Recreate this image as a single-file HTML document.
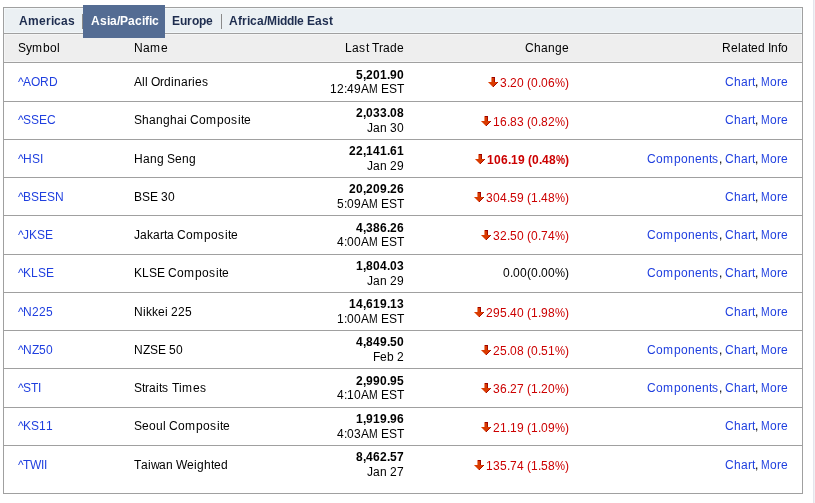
<!DOCTYPE html><html><head><meta charset="utf-8"><style>
*{margin:0;padding:0;box-sizing:border-box}
html,body{width:815px;height:503px;background:#fff;overflow:hidden}
.wrap{position:absolute;left:0;top:0;width:815px;height:503px;will-change:transform}
body{font-family:"Liberation Sans",sans-serif;font-size:12px;color:#000;position:relative}
i{font-style:normal;display:inline-block;white-space:pre}
.w2{width:2px}.w3{width:3px}.w4{width:4px}.w5{width:5px}.w6{width:6px}.w7{width:7px}.w8{width:8px}.w9{width:9px}.w10{width:10px}.w11{width:11px}.w12{width:12px}
.box{position:absolute;left:3px;top:7px;width:800px;height:487px;border:1px solid #a0a0a0}
.tabs{position:absolute;left:4px;top:8px;width:798px;height:25px;background:#ebf0f3;border:1px solid #f3f7f9}
.hdr{position:absolute;left:4px;top:34px;width:798px;height:28px;background:#eeeeee;border:1px solid #f5f5f5}
.tab{position:absolute;top:13px;font-weight:bold;color:#1e2d4f;line-height:14px;white-space:nowrap}
.act{position:absolute;left:83px;top:5px;width:82px;height:33px;background:#546c93}
.sep{position:absolute;top:14px;width:1px;height:15px;background:#8a8a8a}
.vl{position:absolute;left:813px;top:0;width:1px;height:503px;background:#e4e4ec}
.vl2{position:absolute;left:814px;top:0;width:1px;height:503px;background:#f1f1f3}
.hl{position:absolute;left:4px;width:798px;height:1px;background:#a0a0a0}
.t{position:absolute;white-space:nowrap;line-height:14px}
.lnk{color:#1f3fdf}
.pm{transform:scaleX(0.86);transform-origin:0.5px 0}
.pc{transform:scaleX(0.94);transform-origin:0 0}
.pcb{transform:scaleX(0.85);transform-origin:0 0}
.red{color:#cc0000}
.b{font-weight:bold}
.arw{width:13px;height:11px;vertical-align:-1px}
.arw svg{display:block}
</style></head><body><div class="wrap">
<div class="vl"></div><div class="vl2"></div><div class="box"></div><div class="tabs"></div><div class="hdr"></div><div class="hl" style="top:33px"></div><div class="hl" style="top:62px"></div>
<div class="act"></div>
<div class="tab" style="left:19px;top:14px"><i class="w9">A</i><i class="w11">m</i><i class="w7">e</i><i class="w5">r</i><i class="w3">i</i><i class="w7">c</i><i class="w7">a</i><i class="w7">s</i></div>
<div class="sep" style="left:82px"></div>
<div class="tab" style="color:#fff;left:91px;top:14px"><i class="w9">A</i><i class="w7">s</i><i class="w3">i</i><i class="w7">a</i><i class="w3">/</i><i class="w8">P</i><i class="w7">a</i><i class="w7">c</i><i class="w3">i</i><i class="w4">f</i><i class="w3">i</i><i class="w7">c</i></div>
<div class="tab" style="left:172px;top:14px"><i class="w8">E</i><i class="w7">u</i><i class="w5">r</i><i class="w7">o</i><i class="w7">p</i><i class="w7">e</i></div>
<div class="sep" style="left:221px"></div>
<div class="tab" style="left:229px;top:14px"><i class="w9">A</i><i class="w4">f</i><i class="w5">r</i><i class="w3">i</i><i class="w7">c</i><i class="w7">a</i><i class="w3">/</i><i class="w10">M</i><i class="w3">i</i><i class="w7">d</i><i class="w7">d</i><i class="w3">l</i><i class="w7">e</i><i class="w3">&nbsp;</i><i class="w8">E</i><i class="w7">a</i><i class="w7">s</i><i class="w4">t</i></div>
<div class="t" style="left:18px;top:41px"><i class="w8">S</i><i class="w6">y</i><i class="w11">m</i><i class="w7">b</i><i class="w7">o</i><i class="w3">l</i></div>
<div class="t" style="left:134px;top:41px"><i class="w9">N</i><i class="w7">a</i><i class="w11">m</i><i class="w7">e</i></div>
<div class="t" style="right:411px;top:41px"><i class="w7">L</i><i class="w7">a</i><i class="w7">s</i><i class="w3">t</i><i class="w3">&nbsp;</i><i class="w7">T</i><i class="w4">r</i><i class="w7">a</i><i class="w7">d</i><i class="w7">e</i></div>
<div class="t" style="right:246px;top:41px"><i class="w9">C</i><i class="w7">h</i><i class="w7">a</i><i class="w7">n</i><i class="w7">g</i><i class="w7">e</i></div>
<div class="t" style="right:27px;top:41px"><i class="w9">R</i><i class="w7">e</i><i class="w3">l</i><i class="w7">a</i><i class="w3">t</i><i class="w7">e</i><i class="w7">d</i><i class="w3">&nbsp;</i><i class="w3">I</i><i class="w7">n</i><i class="w3">f</i><i class="w7">o</i></div>
<div class="hl" style="top:101px"></div>
<div class="t lnk" style="left:18px;top:75px"><i class="w5">^</i><i class="w8">A</i><i class="w9">O</i><i class="w9">R</i><i class="w9">D</i></div>
<div class="t" style="left:134px;top:75px"><i class="w8">A</i><i class="w3">l</i><i class="w3">l</i><i class="w3">&nbsp;</i><i class="w9">O</i><i class="w4">r</i><i class="w7">d</i><i class="w3">i</i><i class="w7">n</i><i class="w7">a</i><i class="w4">r</i><i class="w3">i</i><i class="w7">e</i><i class="w7">s</i></div>
<div class="t b" style="right:411px;top:68px"><i class="w7">5</i><i class="w3">,</i><i class="w7">2</i><i class="w7">0</i><i class="w7">1</i><i class="w3">.</i><i class="w7">9</i><i class="w7">0</i></div>
<div class="t" style="right:411px;top:82px"><i class="w7">1</i><i class="w7">2</i><i class="w3">:</i><i class="w7">4</i><i class="w7">9</i><i class="w8">A</i><i class="w9 pm">M</i><i class="w3">&nbsp;</i><i class="w8">E</i><i class="w8">S</i><i class="w7">T</i></div>
<div class="t red" style="right:246px;top:76px"><i class="arw"><svg width="13" height="11" viewBox="0 0 13 11" shape-rendering="crispEdges"><rect x="4" y="0" width="1" height="5" fill="#ec9070"/><rect x="5" y="1" width="2" height="4" fill="#d93b00"/><rect x="7" y="1" width="1" height="4" fill="#a80800"/><rect x="5" y="0" width="3" height="1" fill="#9a0000"/><rect x="1" y="5" width="1" height="1" fill="#ec9070"/><rect x="2" y="5" width="8" height="1" fill="#d93b00"/><rect x="10" y="5" width="1" height="1" fill="#a80800"/><rect x="2" y="6" width="1" height="1" fill="#ec9070"/><rect x="3" y="6" width="6" height="1" fill="#d93b00"/><rect x="9" y="6" width="1" height="1" fill="#a80800"/><rect x="3" y="7" width="1" height="1" fill="#ec9070"/><rect x="4" y="7" width="4" height="1" fill="#d93b00"/><rect x="8" y="7" width="1" height="1" fill="#a80800"/><rect x="4" y="8" width="1" height="1" fill="#ec9070"/><rect x="5" y="8" width="2" height="1" fill="#d93b00"/><rect x="7" y="8" width="1" height="1" fill="#a80800"/><rect x="5" y="9" width="1" height="1" fill="#ec9070"/><rect x="6" y="9" width="1" height="1" fill="#a80800"/></svg></i><i class="w7">3</i><i class="w3">.</i><i class="w7">2</i><i class="w7">0</i><i class="w3">&nbsp;</i><i class="w4">(</i><i class="w7">0</i><i class="w3">.</i><i class="w7">0</i><i class="w7">6</i><i class="w10 pc">%</i><i class="w4">)</i></div>
<div class="t" style="right:27px;top:75px"><span class="lnk"><i class="w9">C</i><i class="w7">h</i><i class="w7">a</i><i class="w4">r</i><i class="w3">t</i></span><i class="w3">,</i><i class="w3">&nbsp;</i><span class="lnk"><i class="w9 pm">M</i><i class="w7">o</i><i class="w4">r</i><i class="w7">e</i></span></div>
<div class="hl" style="top:139px"></div>
<div class="t lnk" style="left:18px;top:113px"><i class="w5">^</i><i class="w8">S</i><i class="w8">S</i><i class="w8">E</i><i class="w9">C</i></div>
<div class="t" style="left:134px;top:113px"><i class="w8">S</i><i class="w7">h</i><i class="w7">a</i><i class="w7">n</i><i class="w7">g</i><i class="w7">h</i><i class="w7">a</i><i class="w3">i</i><i class="w3">&nbsp;</i><i class="w9">C</i><i class="w7">o</i><i class="w11">m</i><i class="w7">p</i><i class="w7">o</i><i class="w7">s</i><i class="w3">i</i><i class="w3">t</i><i class="w7">e</i></div>
<div class="t b" style="right:411px;top:106px"><i class="w7">2</i><i class="w3">,</i><i class="w7">0</i><i class="w7">3</i><i class="w7">3</i><i class="w3">.</i><i class="w7">0</i><i class="w7">8</i></div>
<div class="t" style="right:411px;top:121px"><i class="w6">J</i><i class="w7">a</i><i class="w7">n</i><i class="w3">&nbsp;</i><i class="w7">3</i><i class="w7">0</i></div>
<div class="t red" style="right:246px;top:115px"><i class="arw"><svg width="13" height="11" viewBox="0 0 13 11" shape-rendering="crispEdges"><rect x="4" y="0" width="1" height="5" fill="#ec9070"/><rect x="5" y="1" width="2" height="4" fill="#d93b00"/><rect x="7" y="1" width="1" height="4" fill="#a80800"/><rect x="5" y="0" width="3" height="1" fill="#9a0000"/><rect x="1" y="5" width="1" height="1" fill="#ec9070"/><rect x="2" y="5" width="8" height="1" fill="#d93b00"/><rect x="10" y="5" width="1" height="1" fill="#a80800"/><rect x="2" y="6" width="1" height="1" fill="#ec9070"/><rect x="3" y="6" width="6" height="1" fill="#d93b00"/><rect x="9" y="6" width="1" height="1" fill="#a80800"/><rect x="3" y="7" width="1" height="1" fill="#ec9070"/><rect x="4" y="7" width="4" height="1" fill="#d93b00"/><rect x="8" y="7" width="1" height="1" fill="#a80800"/><rect x="4" y="8" width="1" height="1" fill="#ec9070"/><rect x="5" y="8" width="2" height="1" fill="#d93b00"/><rect x="7" y="8" width="1" height="1" fill="#a80800"/><rect x="5" y="9" width="1" height="1" fill="#ec9070"/><rect x="6" y="9" width="1" height="1" fill="#a80800"/></svg></i><i class="w7">1</i><i class="w7">6</i><i class="w3">.</i><i class="w7">8</i><i class="w7">3</i><i class="w3">&nbsp;</i><i class="w4">(</i><i class="w7">0</i><i class="w3">.</i><i class="w7">8</i><i class="w7">2</i><i class="w10 pc">%</i><i class="w4">)</i></div>
<div class="t" style="right:27px;top:113px"><span class="lnk"><i class="w9">C</i><i class="w7">h</i><i class="w7">a</i><i class="w4">r</i><i class="w3">t</i></span><i class="w3">,</i><i class="w3">&nbsp;</i><span class="lnk"><i class="w9 pm">M</i><i class="w7">o</i><i class="w4">r</i><i class="w7">e</i></span></div>
<div class="hl" style="top:177px"></div>
<div class="t lnk" style="left:18px;top:152px"><i class="w5">^</i><i class="w9">H</i><i class="w8">S</i><i class="w3">I</i></div>
<div class="t" style="left:134px;top:152px"><i class="w9">H</i><i class="w7">a</i><i class="w7">n</i><i class="w7">g</i><i class="w3">&nbsp;</i><i class="w8">S</i><i class="w7">e</i><i class="w7">n</i><i class="w7">g</i></div>
<div class="t b" style="right:411px;top:144px"><i class="w7">2</i><i class="w7">2</i><i class="w3">,</i><i class="w7">1</i><i class="w7">4</i><i class="w7">1</i><i class="w3">.</i><i class="w7">6</i><i class="w7">1</i></div>
<div class="t" style="right:411px;top:159px"><i class="w6">J</i><i class="w7">a</i><i class="w7">n</i><i class="w3">&nbsp;</i><i class="w7">2</i><i class="w7">9</i></div>
<div class="t red b" style="right:246px;top:153px"><i class="arw"><svg width="13" height="11" viewBox="0 0 13 11" shape-rendering="crispEdges"><rect x="4" y="0" width="1" height="5" fill="#ec9070"/><rect x="5" y="1" width="2" height="4" fill="#d93b00"/><rect x="7" y="1" width="1" height="4" fill="#a80800"/><rect x="5" y="0" width="3" height="1" fill="#9a0000"/><rect x="1" y="5" width="1" height="1" fill="#ec9070"/><rect x="2" y="5" width="8" height="1" fill="#d93b00"/><rect x="10" y="5" width="1" height="1" fill="#a80800"/><rect x="2" y="6" width="1" height="1" fill="#ec9070"/><rect x="3" y="6" width="6" height="1" fill="#d93b00"/><rect x="9" y="6" width="1" height="1" fill="#a80800"/><rect x="3" y="7" width="1" height="1" fill="#ec9070"/><rect x="4" y="7" width="4" height="1" fill="#d93b00"/><rect x="8" y="7" width="1" height="1" fill="#a80800"/><rect x="4" y="8" width="1" height="1" fill="#ec9070"/><rect x="5" y="8" width="2" height="1" fill="#d93b00"/><rect x="7" y="8" width="1" height="1" fill="#a80800"/><rect x="5" y="9" width="1" height="1" fill="#ec9070"/><rect x="6" y="9" width="1" height="1" fill="#a80800"/></svg></i><i class="w7">1</i><i class="w7">0</i><i class="w7">6</i><i class="w3">.</i><i class="w7">1</i><i class="w7">9</i><i class="w3">&nbsp;</i><i class="w4">(</i><i class="w7">0</i><i class="w3">.</i><i class="w7">4</i><i class="w7">8</i><i class="w9 pcb">%</i><i class="w4">)</i></div>
<div class="t" style="right:27px;top:152px"><span class="lnk"><i class="w9">C</i><i class="w7">o</i><i class="w11">m</i><i class="w7">p</i><i class="w7">o</i><i class="w7">n</i><i class="w7">e</i><i class="w7">n</i><i class="w3">t</i><i class="w7">s</i></span><i class="w3">,</i><i class="w3">&nbsp;</i><span class="lnk"><i class="w9">C</i><i class="w7">h</i><i class="w7">a</i><i class="w4">r</i><i class="w3">t</i></span><i class="w3">,</i><i class="w3">&nbsp;</i><span class="lnk"><i class="w9 pm">M</i><i class="w7">o</i><i class="w4">r</i><i class="w7">e</i></span></div>
<div class="hl" style="top:215px"></div>
<div class="t lnk" style="left:18px;top:190px"><i class="w5">^</i><i class="w8">B</i><i class="w8">S</i><i class="w8">E</i><i class="w8">S</i><i class="w9">N</i></div>
<div class="t" style="left:134px;top:190px"><i class="w8">B</i><i class="w8">S</i><i class="w8">E</i><i class="w3">&nbsp;</i><i class="w7">3</i><i class="w7">0</i></div>
<div class="t b" style="right:411px;top:182px"><i class="w7">2</i><i class="w7">0</i><i class="w3">,</i><i class="w7">2</i><i class="w7">0</i><i class="w7">9</i><i class="w3">.</i><i class="w7">2</i><i class="w7">6</i></div>
<div class="t" style="right:411px;top:197px"><i class="w7">5</i><i class="w3">:</i><i class="w7">0</i><i class="w7">9</i><i class="w8">A</i><i class="w9 pm">M</i><i class="w3">&nbsp;</i><i class="w8">E</i><i class="w8">S</i><i class="w7">T</i></div>
<div class="t red" style="right:246px;top:191px"><i class="arw"><svg width="13" height="11" viewBox="0 0 13 11" shape-rendering="crispEdges"><rect x="4" y="0" width="1" height="5" fill="#ec9070"/><rect x="5" y="1" width="2" height="4" fill="#d93b00"/><rect x="7" y="1" width="1" height="4" fill="#a80800"/><rect x="5" y="0" width="3" height="1" fill="#9a0000"/><rect x="1" y="5" width="1" height="1" fill="#ec9070"/><rect x="2" y="5" width="8" height="1" fill="#d93b00"/><rect x="10" y="5" width="1" height="1" fill="#a80800"/><rect x="2" y="6" width="1" height="1" fill="#ec9070"/><rect x="3" y="6" width="6" height="1" fill="#d93b00"/><rect x="9" y="6" width="1" height="1" fill="#a80800"/><rect x="3" y="7" width="1" height="1" fill="#ec9070"/><rect x="4" y="7" width="4" height="1" fill="#d93b00"/><rect x="8" y="7" width="1" height="1" fill="#a80800"/><rect x="4" y="8" width="1" height="1" fill="#ec9070"/><rect x="5" y="8" width="2" height="1" fill="#d93b00"/><rect x="7" y="8" width="1" height="1" fill="#a80800"/><rect x="5" y="9" width="1" height="1" fill="#ec9070"/><rect x="6" y="9" width="1" height="1" fill="#a80800"/></svg></i><i class="w7">3</i><i class="w7">0</i><i class="w7">4</i><i class="w3">.</i><i class="w7">5</i><i class="w7">9</i><i class="w3">&nbsp;</i><i class="w4">(</i><i class="w7">1</i><i class="w3">.</i><i class="w7">4</i><i class="w7">8</i><i class="w10 pc">%</i><i class="w4">)</i></div>
<div class="t" style="right:27px;top:190px"><span class="lnk"><i class="w9">C</i><i class="w7">h</i><i class="w7">a</i><i class="w4">r</i><i class="w3">t</i></span><i class="w3">,</i><i class="w3">&nbsp;</i><span class="lnk"><i class="w9 pm">M</i><i class="w7">o</i><i class="w4">r</i><i class="w7">e</i></span></div>
<div class="hl" style="top:254px"></div>
<div class="t lnk" style="left:18px;top:228px"><i class="w5">^</i><i class="w6">J</i><i class="w8">K</i><i class="w8">S</i><i class="w8">E</i></div>
<div class="t" style="left:134px;top:228px"><i class="w6">J</i><i class="w7">a</i><i class="w6">k</i><i class="w7">a</i><i class="w4">r</i><i class="w3">t</i><i class="w7">a</i><i class="w3">&nbsp;</i><i class="w9">C</i><i class="w7">o</i><i class="w11">m</i><i class="w7">p</i><i class="w7">o</i><i class="w7">s</i><i class="w3">i</i><i class="w3">t</i><i class="w7">e</i></div>
<div class="t b" style="right:411px;top:221px"><i class="w7">4</i><i class="w3">,</i><i class="w7">3</i><i class="w7">8</i><i class="w7">6</i><i class="w3">.</i><i class="w7">2</i><i class="w7">6</i></div>
<div class="t" style="right:411px;top:235px"><i class="w7">4</i><i class="w3">:</i><i class="w7">0</i><i class="w7">0</i><i class="w8">A</i><i class="w9 pm">M</i><i class="w3">&nbsp;</i><i class="w8">E</i><i class="w8">S</i><i class="w7">T</i></div>
<div class="t red" style="right:246px;top:229px"><i class="arw"><svg width="13" height="11" viewBox="0 0 13 11" shape-rendering="crispEdges"><rect x="4" y="0" width="1" height="5" fill="#ec9070"/><rect x="5" y="1" width="2" height="4" fill="#d93b00"/><rect x="7" y="1" width="1" height="4" fill="#a80800"/><rect x="5" y="0" width="3" height="1" fill="#9a0000"/><rect x="1" y="5" width="1" height="1" fill="#ec9070"/><rect x="2" y="5" width="8" height="1" fill="#d93b00"/><rect x="10" y="5" width="1" height="1" fill="#a80800"/><rect x="2" y="6" width="1" height="1" fill="#ec9070"/><rect x="3" y="6" width="6" height="1" fill="#d93b00"/><rect x="9" y="6" width="1" height="1" fill="#a80800"/><rect x="3" y="7" width="1" height="1" fill="#ec9070"/><rect x="4" y="7" width="4" height="1" fill="#d93b00"/><rect x="8" y="7" width="1" height="1" fill="#a80800"/><rect x="4" y="8" width="1" height="1" fill="#ec9070"/><rect x="5" y="8" width="2" height="1" fill="#d93b00"/><rect x="7" y="8" width="1" height="1" fill="#a80800"/><rect x="5" y="9" width="1" height="1" fill="#ec9070"/><rect x="6" y="9" width="1" height="1" fill="#a80800"/></svg></i><i class="w7">3</i><i class="w7">2</i><i class="w3">.</i><i class="w7">5</i><i class="w7">0</i><i class="w3">&nbsp;</i><i class="w4">(</i><i class="w7">0</i><i class="w3">.</i><i class="w7">7</i><i class="w7">4</i><i class="w10 pc">%</i><i class="w4">)</i></div>
<div class="t" style="right:27px;top:228px"><span class="lnk"><i class="w9">C</i><i class="w7">o</i><i class="w11">m</i><i class="w7">p</i><i class="w7">o</i><i class="w7">n</i><i class="w7">e</i><i class="w7">n</i><i class="w3">t</i><i class="w7">s</i></span><i class="w3">,</i><i class="w3">&nbsp;</i><span class="lnk"><i class="w9">C</i><i class="w7">h</i><i class="w7">a</i><i class="w4">r</i><i class="w3">t</i></span><i class="w3">,</i><i class="w3">&nbsp;</i><span class="lnk"><i class="w9 pm">M</i><i class="w7">o</i><i class="w4">r</i><i class="w7">e</i></span></div>
<div class="hl" style="top:292px"></div>
<div class="t lnk" style="left:18px;top:266px"><i class="w5">^</i><i class="w8">K</i><i class="w7">L</i><i class="w8">S</i><i class="w8">E</i></div>
<div class="t" style="left:134px;top:266px"><i class="w8">K</i><i class="w7">L</i><i class="w8">S</i><i class="w8">E</i><i class="w3">&nbsp;</i><i class="w9">C</i><i class="w7">o</i><i class="w11">m</i><i class="w7">p</i><i class="w7">o</i><i class="w7">s</i><i class="w3">i</i><i class="w3">t</i><i class="w7">e</i></div>
<div class="t b" style="right:411px;top:259px"><i class="w7">1</i><i class="w3">,</i><i class="w7">8</i><i class="w7">0</i><i class="w7">4</i><i class="w3">.</i><i class="w7">0</i><i class="w7">3</i></div>
<div class="t" style="right:411px;top:274px"><i class="w6">J</i><i class="w7">a</i><i class="w7">n</i><i class="w3">&nbsp;</i><i class="w7">2</i><i class="w7">9</i></div>
<div class="t" style="right:246px;top:266px"><i class="w7">0</i><i class="w3">.</i><i class="w7">0</i><i class="w7">0</i><i class="w4">(</i><i class="w7">0</i><i class="w3">.</i><i class="w7">0</i><i class="w7">0</i><i class="w10 pc">%</i><i class="w4">)</i></div>
<div class="t" style="right:27px;top:266px"><span class="lnk"><i class="w9">C</i><i class="w7">o</i><i class="w11">m</i><i class="w7">p</i><i class="w7">o</i><i class="w7">n</i><i class="w7">e</i><i class="w7">n</i><i class="w3">t</i><i class="w7">s</i></span><i class="w3">,</i><i class="w3">&nbsp;</i><span class="lnk"><i class="w9">C</i><i class="w7">h</i><i class="w7">a</i><i class="w4">r</i><i class="w3">t</i></span><i class="w3">,</i><i class="w3">&nbsp;</i><span class="lnk"><i class="w9 pm">M</i><i class="w7">o</i><i class="w4">r</i><i class="w7">e</i></span></div>
<div class="hl" style="top:330px"></div>
<div class="t lnk" style="left:18px;top:305px"><i class="w5">^</i><i class="w9">N</i><i class="w7">2</i><i class="w7">2</i><i class="w7">5</i></div>
<div class="t" style="left:134px;top:305px"><i class="w9">N</i><i class="w3">i</i><i class="w6">k</i><i class="w6">k</i><i class="w7">e</i><i class="w3">i</i><i class="w3">&nbsp;</i><i class="w7">2</i><i class="w7">2</i><i class="w7">5</i></div>
<div class="t b" style="right:411px;top:297px"><i class="w7">1</i><i class="w7">4</i><i class="w3">,</i><i class="w7">6</i><i class="w7">1</i><i class="w7">9</i><i class="w3">.</i><i class="w7">1</i><i class="w7">3</i></div>
<div class="t" style="right:411px;top:312px"><i class="w7">1</i><i class="w3">:</i><i class="w7">0</i><i class="w7">0</i><i class="w8">A</i><i class="w9 pm">M</i><i class="w3">&nbsp;</i><i class="w8">E</i><i class="w8">S</i><i class="w7">T</i></div>
<div class="t red" style="right:246px;top:306px"><i class="arw"><svg width="13" height="11" viewBox="0 0 13 11" shape-rendering="crispEdges"><rect x="4" y="0" width="1" height="5" fill="#ec9070"/><rect x="5" y="1" width="2" height="4" fill="#d93b00"/><rect x="7" y="1" width="1" height="4" fill="#a80800"/><rect x="5" y="0" width="3" height="1" fill="#9a0000"/><rect x="1" y="5" width="1" height="1" fill="#ec9070"/><rect x="2" y="5" width="8" height="1" fill="#d93b00"/><rect x="10" y="5" width="1" height="1" fill="#a80800"/><rect x="2" y="6" width="1" height="1" fill="#ec9070"/><rect x="3" y="6" width="6" height="1" fill="#d93b00"/><rect x="9" y="6" width="1" height="1" fill="#a80800"/><rect x="3" y="7" width="1" height="1" fill="#ec9070"/><rect x="4" y="7" width="4" height="1" fill="#d93b00"/><rect x="8" y="7" width="1" height="1" fill="#a80800"/><rect x="4" y="8" width="1" height="1" fill="#ec9070"/><rect x="5" y="8" width="2" height="1" fill="#d93b00"/><rect x="7" y="8" width="1" height="1" fill="#a80800"/><rect x="5" y="9" width="1" height="1" fill="#ec9070"/><rect x="6" y="9" width="1" height="1" fill="#a80800"/></svg></i><i class="w7">2</i><i class="w7">9</i><i class="w7">5</i><i class="w3">.</i><i class="w7">4</i><i class="w7">0</i><i class="w3">&nbsp;</i><i class="w4">(</i><i class="w7">1</i><i class="w3">.</i><i class="w7">9</i><i class="w7">8</i><i class="w10 pc">%</i><i class="w4">)</i></div>
<div class="t" style="right:27px;top:305px"><span class="lnk"><i class="w9">C</i><i class="w7">h</i><i class="w7">a</i><i class="w4">r</i><i class="w3">t</i></span><i class="w3">,</i><i class="w3">&nbsp;</i><span class="lnk"><i class="w9 pm">M</i><i class="w7">o</i><i class="w4">r</i><i class="w7">e</i></span></div>
<div class="hl" style="top:368px"></div>
<div class="t lnk" style="left:18px;top:343px"><i class="w5">^</i><i class="w9">N</i><i class="w7">Z</i><i class="w7">5</i><i class="w7">0</i></div>
<div class="t" style="left:134px;top:343px"><i class="w9">N</i><i class="w7">Z</i><i class="w8">S</i><i class="w8">E</i><i class="w3">&nbsp;</i><i class="w7">5</i><i class="w7">0</i></div>
<div class="t b" style="right:411px;top:335px"><i class="w7">4</i><i class="w3">,</i><i class="w7">8</i><i class="w7">4</i><i class="w7">9</i><i class="w3">.</i><i class="w7">5</i><i class="w7">0</i></div>
<div class="t" style="right:411px;top:350px"><i class="w7">F</i><i class="w7">e</i><i class="w7">b</i><i class="w3">&nbsp;</i><i class="w7">2</i></div>
<div class="t red" style="right:246px;top:344px"><i class="arw"><svg width="13" height="11" viewBox="0 0 13 11" shape-rendering="crispEdges"><rect x="4" y="0" width="1" height="5" fill="#ec9070"/><rect x="5" y="1" width="2" height="4" fill="#d93b00"/><rect x="7" y="1" width="1" height="4" fill="#a80800"/><rect x="5" y="0" width="3" height="1" fill="#9a0000"/><rect x="1" y="5" width="1" height="1" fill="#ec9070"/><rect x="2" y="5" width="8" height="1" fill="#d93b00"/><rect x="10" y="5" width="1" height="1" fill="#a80800"/><rect x="2" y="6" width="1" height="1" fill="#ec9070"/><rect x="3" y="6" width="6" height="1" fill="#d93b00"/><rect x="9" y="6" width="1" height="1" fill="#a80800"/><rect x="3" y="7" width="1" height="1" fill="#ec9070"/><rect x="4" y="7" width="4" height="1" fill="#d93b00"/><rect x="8" y="7" width="1" height="1" fill="#a80800"/><rect x="4" y="8" width="1" height="1" fill="#ec9070"/><rect x="5" y="8" width="2" height="1" fill="#d93b00"/><rect x="7" y="8" width="1" height="1" fill="#a80800"/><rect x="5" y="9" width="1" height="1" fill="#ec9070"/><rect x="6" y="9" width="1" height="1" fill="#a80800"/></svg></i><i class="w7">2</i><i class="w7">5</i><i class="w3">.</i><i class="w7">0</i><i class="w7">8</i><i class="w3">&nbsp;</i><i class="w4">(</i><i class="w7">0</i><i class="w3">.</i><i class="w7">5</i><i class="w7">1</i><i class="w10 pc">%</i><i class="w4">)</i></div>
<div class="t" style="right:27px;top:343px"><span class="lnk"><i class="w9">C</i><i class="w7">o</i><i class="w11">m</i><i class="w7">p</i><i class="w7">o</i><i class="w7">n</i><i class="w7">e</i><i class="w7">n</i><i class="w3">t</i><i class="w7">s</i></span><i class="w3">,</i><i class="w3">&nbsp;</i><span class="lnk"><i class="w9">C</i><i class="w7">h</i><i class="w7">a</i><i class="w4">r</i><i class="w3">t</i></span><i class="w3">,</i><i class="w3">&nbsp;</i><span class="lnk"><i class="w9 pm">M</i><i class="w7">o</i><i class="w4">r</i><i class="w7">e</i></span></div>
<div class="hl" style="top:407px"></div>
<div class="t lnk" style="left:18px;top:381px"><i class="w5">^</i><i class="w8">S</i><i class="w7">T</i><i class="w3">I</i></div>
<div class="t" style="left:134px;top:381px"><i class="w8">S</i><i class="w3">t</i><i class="w4">r</i><i class="w7">a</i><i class="w3">i</i><i class="w3">t</i><i class="w7">s</i><i class="w3">&nbsp;</i><i class="w7">T</i><i class="w3">i</i><i class="w11">m</i><i class="w7">e</i><i class="w7">s</i></div>
<div class="t b" style="right:411px;top:374px"><i class="w7">2</i><i class="w3">,</i><i class="w7">9</i><i class="w7">9</i><i class="w7">0</i><i class="w3">.</i><i class="w7">9</i><i class="w7">5</i></div>
<div class="t" style="right:411px;top:388px"><i class="w7">4</i><i class="w3">:</i><i class="w7">1</i><i class="w7">0</i><i class="w8">A</i><i class="w9 pm">M</i><i class="w3">&nbsp;</i><i class="w8">E</i><i class="w8">S</i><i class="w7">T</i></div>
<div class="t red" style="right:246px;top:382px"><i class="arw"><svg width="13" height="11" viewBox="0 0 13 11" shape-rendering="crispEdges"><rect x="4" y="0" width="1" height="5" fill="#ec9070"/><rect x="5" y="1" width="2" height="4" fill="#d93b00"/><rect x="7" y="1" width="1" height="4" fill="#a80800"/><rect x="5" y="0" width="3" height="1" fill="#9a0000"/><rect x="1" y="5" width="1" height="1" fill="#ec9070"/><rect x="2" y="5" width="8" height="1" fill="#d93b00"/><rect x="10" y="5" width="1" height="1" fill="#a80800"/><rect x="2" y="6" width="1" height="1" fill="#ec9070"/><rect x="3" y="6" width="6" height="1" fill="#d93b00"/><rect x="9" y="6" width="1" height="1" fill="#a80800"/><rect x="3" y="7" width="1" height="1" fill="#ec9070"/><rect x="4" y="7" width="4" height="1" fill="#d93b00"/><rect x="8" y="7" width="1" height="1" fill="#a80800"/><rect x="4" y="8" width="1" height="1" fill="#ec9070"/><rect x="5" y="8" width="2" height="1" fill="#d93b00"/><rect x="7" y="8" width="1" height="1" fill="#a80800"/><rect x="5" y="9" width="1" height="1" fill="#ec9070"/><rect x="6" y="9" width="1" height="1" fill="#a80800"/></svg></i><i class="w7">3</i><i class="w7">6</i><i class="w3">.</i><i class="w7">2</i><i class="w7">7</i><i class="w3">&nbsp;</i><i class="w4">(</i><i class="w7">1</i><i class="w3">.</i><i class="w7">2</i><i class="w7">0</i><i class="w10 pc">%</i><i class="w4">)</i></div>
<div class="t" style="right:27px;top:381px"><span class="lnk"><i class="w9">C</i><i class="w7">o</i><i class="w11">m</i><i class="w7">p</i><i class="w7">o</i><i class="w7">n</i><i class="w7">e</i><i class="w7">n</i><i class="w3">t</i><i class="w7">s</i></span><i class="w3">,</i><i class="w3">&nbsp;</i><span class="lnk"><i class="w9">C</i><i class="w7">h</i><i class="w7">a</i><i class="w4">r</i><i class="w3">t</i></span><i class="w3">,</i><i class="w3">&nbsp;</i><span class="lnk"><i class="w9 pm">M</i><i class="w7">o</i><i class="w4">r</i><i class="w7">e</i></span></div>
<div class="hl" style="top:445px"></div>
<div class="t lnk" style="left:18px;top:419px"><i class="w5">^</i><i class="w8">K</i><i class="w8">S</i><i class="w7">1</i><i class="w7">1</i></div>
<div class="t" style="left:134px;top:419px"><i class="w8">S</i><i class="w7">e</i><i class="w7">o</i><i class="w7">u</i><i class="w3">l</i><i class="w3">&nbsp;</i><i class="w9">C</i><i class="w7">o</i><i class="w11">m</i><i class="w7">p</i><i class="w7">o</i><i class="w7">s</i><i class="w3">i</i><i class="w3">t</i><i class="w7">e</i></div>
<div class="t b" style="right:411px;top:412px"><i class="w7">1</i><i class="w3">,</i><i class="w7">9</i><i class="w7">1</i><i class="w7">9</i><i class="w3">.</i><i class="w7">9</i><i class="w7">6</i></div>
<div class="t" style="right:411px;top:427px"><i class="w7">4</i><i class="w3">:</i><i class="w7">0</i><i class="w7">3</i><i class="w8">A</i><i class="w9 pm">M</i><i class="w3">&nbsp;</i><i class="w8">E</i><i class="w8">S</i><i class="w7">T</i></div>
<div class="t red" style="right:246px;top:421px"><i class="arw"><svg width="13" height="11" viewBox="0 0 13 11" shape-rendering="crispEdges"><rect x="4" y="0" width="1" height="5" fill="#ec9070"/><rect x="5" y="1" width="2" height="4" fill="#d93b00"/><rect x="7" y="1" width="1" height="4" fill="#a80800"/><rect x="5" y="0" width="3" height="1" fill="#9a0000"/><rect x="1" y="5" width="1" height="1" fill="#ec9070"/><rect x="2" y="5" width="8" height="1" fill="#d93b00"/><rect x="10" y="5" width="1" height="1" fill="#a80800"/><rect x="2" y="6" width="1" height="1" fill="#ec9070"/><rect x="3" y="6" width="6" height="1" fill="#d93b00"/><rect x="9" y="6" width="1" height="1" fill="#a80800"/><rect x="3" y="7" width="1" height="1" fill="#ec9070"/><rect x="4" y="7" width="4" height="1" fill="#d93b00"/><rect x="8" y="7" width="1" height="1" fill="#a80800"/><rect x="4" y="8" width="1" height="1" fill="#ec9070"/><rect x="5" y="8" width="2" height="1" fill="#d93b00"/><rect x="7" y="8" width="1" height="1" fill="#a80800"/><rect x="5" y="9" width="1" height="1" fill="#ec9070"/><rect x="6" y="9" width="1" height="1" fill="#a80800"/></svg></i><i class="w7">2</i><i class="w7">1</i><i class="w3">.</i><i class="w7">1</i><i class="w7">9</i><i class="w3">&nbsp;</i><i class="w4">(</i><i class="w7">1</i><i class="w3">.</i><i class="w7">0</i><i class="w7">9</i><i class="w10 pc">%</i><i class="w4">)</i></div>
<div class="t" style="right:27px;top:419px"><span class="lnk"><i class="w9">C</i><i class="w7">h</i><i class="w7">a</i><i class="w4">r</i><i class="w3">t</i></span><i class="w3">,</i><i class="w3">&nbsp;</i><span class="lnk"><i class="w9 pm">M</i><i class="w7">o</i><i class="w4">r</i><i class="w7">e</i></span></div>
<div class="t lnk" style="left:18px;top:458px"><i class="w5">^</i><i class="w7">T</i><i class="w11">W</i><i class="w3">I</i><i class="w3">I</i></div>
<div class="t" style="left:134px;top:458px"><i class="w7">T</i><i class="w7">a</i><i class="w3">i</i><i class="w8">w</i><i class="w7">a</i><i class="w7">n</i><i class="w3">&nbsp;</i><i class="w11">W</i><i class="w7">e</i><i class="w3">i</i><i class="w7">g</i><i class="w7">h</i><i class="w3">t</i><i class="w7">e</i><i class="w7">d</i></div>
<div class="t b" style="right:411px;top:450px"><i class="w7">8</i><i class="w3">,</i><i class="w7">4</i><i class="w7">6</i><i class="w7">2</i><i class="w3">.</i><i class="w7">5</i><i class="w7">7</i></div>
<div class="t" style="right:411px;top:465px"><i class="w6">J</i><i class="w7">a</i><i class="w7">n</i><i class="w3">&nbsp;</i><i class="w7">2</i><i class="w7">7</i></div>
<div class="t red" style="right:246px;top:459px"><i class="arw"><svg width="13" height="11" viewBox="0 0 13 11" shape-rendering="crispEdges"><rect x="4" y="0" width="1" height="5" fill="#ec9070"/><rect x="5" y="1" width="2" height="4" fill="#d93b00"/><rect x="7" y="1" width="1" height="4" fill="#a80800"/><rect x="5" y="0" width="3" height="1" fill="#9a0000"/><rect x="1" y="5" width="1" height="1" fill="#ec9070"/><rect x="2" y="5" width="8" height="1" fill="#d93b00"/><rect x="10" y="5" width="1" height="1" fill="#a80800"/><rect x="2" y="6" width="1" height="1" fill="#ec9070"/><rect x="3" y="6" width="6" height="1" fill="#d93b00"/><rect x="9" y="6" width="1" height="1" fill="#a80800"/><rect x="3" y="7" width="1" height="1" fill="#ec9070"/><rect x="4" y="7" width="4" height="1" fill="#d93b00"/><rect x="8" y="7" width="1" height="1" fill="#a80800"/><rect x="4" y="8" width="1" height="1" fill="#ec9070"/><rect x="5" y="8" width="2" height="1" fill="#d93b00"/><rect x="7" y="8" width="1" height="1" fill="#a80800"/><rect x="5" y="9" width="1" height="1" fill="#ec9070"/><rect x="6" y="9" width="1" height="1" fill="#a80800"/></svg></i><i class="w7">1</i><i class="w7">3</i><i class="w7">5</i><i class="w3">.</i><i class="w7">7</i><i class="w7">4</i><i class="w3">&nbsp;</i><i class="w4">(</i><i class="w7">1</i><i class="w3">.</i><i class="w7">5</i><i class="w7">8</i><i class="w10 pc">%</i><i class="w4">)</i></div>
<div class="t" style="right:27px;top:458px"><span class="lnk"><i class="w9">C</i><i class="w7">h</i><i class="w7">a</i><i class="w4">r</i><i class="w3">t</i></span><i class="w3">,</i><i class="w3">&nbsp;</i><span class="lnk"><i class="w9 pm">M</i><i class="w7">o</i><i class="w4">r</i><i class="w7">e</i></span></div>
</div></body></html>
